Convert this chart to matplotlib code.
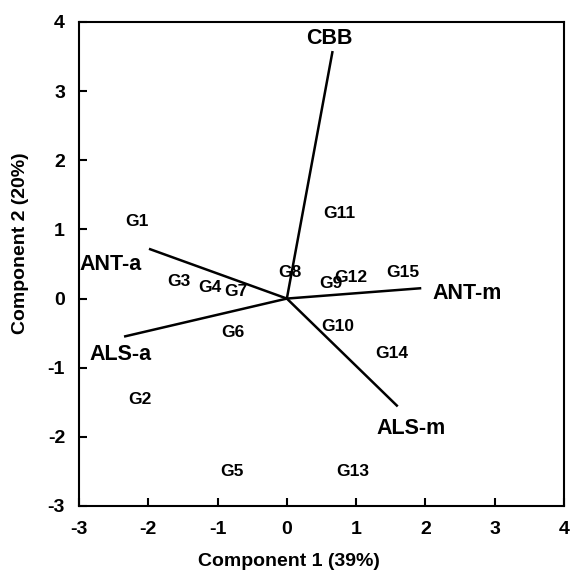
import matplotlib
matplotlib.use("Agg")
import matplotlib.pyplot as plt

plt.rcParams["font.family"] = ["Liberation Sans", "DejaVu Sans"]
plt.rcParams["font.weight"] = "bold"
plt.rcParams["axes.unicode_minus"] = False

# genotype scores (label positions)
genotypes = ["G1", "G2", "G3", "G4", "G5", "G6", "G7", "G8", "G9", "G10",
             "G11", "G12", "G13", "G14", "G15"]
geno_x = [-2.16, -2.12, -1.56, -1.11, -0.79, -0.78, -0.74, 0.04, 0.64, 0.74,
          0.75, 0.92, 0.95, 1.52, 1.67]
geno_y = [1.11, -1.46, 0.25, 0.16, -2.50, -0.49, 0.10, 0.37, 0.22, -0.40,
          1.23, 0.31, -2.50, -0.80, 0.38]

# trait loadings (vector ends) and their label positions
traits = ["CBB", "ANT-a", "ANT-m", "ALS-a", "ALS-m"]
vec_x = [0.66, -1.99, 1.94, -2.35, 1.60]
vec_y = [3.58, 0.72, 0.15, -0.55, -1.56]
lab_x = [0.62, -2.54, 2.60, -2.40, 1.79]
lab_y = [3.76, 0.49, 0.08, -0.81, -1.88]

fig = plt.figure(figsize=(5.71, 5.73), dpi=100)
ax = fig.add_axes([79 / 571, 1 - 506 / 573, (564 - 79) / 571, (506 - 22) / 573])

for x, y in zip(vec_x, vec_y):
    ax.plot([0, x], [0, y], color="black", lw=1.8, solid_capstyle="butt")
for t, x, y in zip(traits, lab_x, lab_y):
    ax.text(x, y, t, ha="center", va="center", fontsize=15.5, fontweight="bold")
for g, x, y in zip(genotypes, geno_x, geno_y):
    ax.text(x, y, g, ha="center", va="center", fontsize=12.5, fontweight="bold")

ax.set_xlim(-3, 4)
ax.set_ylim(-3, 4)
ax.set_xticks(range(-3, 5))
ax.set_yticks(range(-3, 5))
ax.tick_params(direction="in", length=6, width=1.5, labelsize=14,
               top=False, right=False)
ax.tick_params(axis="x", pad=11)
ax.tick_params(axis="y", pad=10)
for lab in ax.get_xticklabels() + ax.get_yticklabels():
    lab.set_fontweight("bold")
for sp in ax.spines.values():
    sp.set_linewidth(1.5)

ax.set_xlabel("Component 1 (39%)", fontsize=14, fontweight="bold")
ax.set_ylabel("Component 2 (20%)", fontsize=14, fontweight="bold")
ax.xaxis.set_label_coords(0.433, -0.097)
ax.yaxis.set_label_coords(-0.103, 0.543)

fig.savefig("out.png", dpi=100)
